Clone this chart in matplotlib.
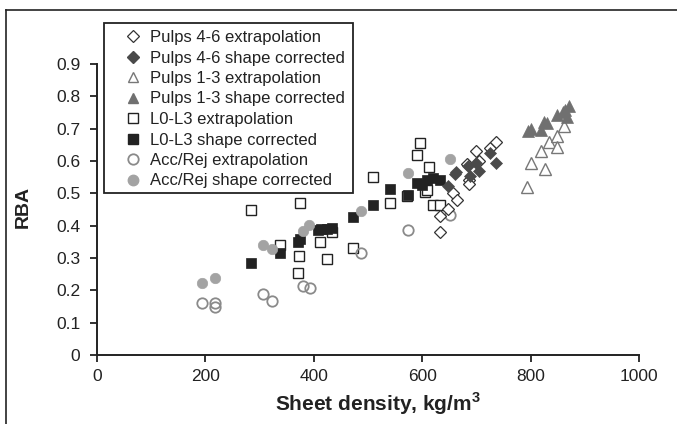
import matplotlib
matplotlib.use("Agg")
import matplotlib.pyplot as plt
from matplotlib.lines import Line2D
from matplotlib.patches import Rectangle

plt.rcParams['font.family'] = ['Liberation Sans', 'DejaVu Sans']
plt.rcParams['mathtext.fontset'] = 'custom'
plt.rcParams['mathtext.rm'] = 'Liberation Sans'
plt.rcParams['mathtext.bf'] = 'Liberation Sans:bold'

# Pulps 4-6
p46_ext_x = [632, 632, 648, 657, 664, 682, 687, 687, 700, 705, 726, 736]
p46_ext_y = [0.38, 0.43, 0.45, 0.50, 0.48, 0.59, 0.54, 0.53, 0.63, 0.60, 0.64, 0.66]
p46_sc_x = [648, 660, 662, 685, 688, 700, 704, 726, 736]
p46_sc_y = [0.523, 0.56, 0.565, 0.585, 0.555, 0.595, 0.57, 0.624, 0.595]

# Pulps 1-3
p13_ext_x = [794, 800, 820, 826, 834, 848, 848, 862]
p13_ext_y = [0.52, 0.595, 0.632, 0.574, 0.66, 0.677, 0.644, 0.708]
p13_sc_x = [796, 801, 820, 825, 831, 848, 860, 864, 867, 870]
p13_sc_y = [0.694, 0.70, 0.696, 0.722, 0.716, 0.742, 0.75, 0.758, 0.737, 0.77]

# L0-L3
l03_ext_x = [285, 338, 370, 373, 375, 411, 425, 433, 472, 509, 540, 572, 590, 596, 605,
             608, 613, 620, 633]
l03_ext_y = [0.449, 0.34, 0.255, 0.306, 0.471, 0.35, 0.296, 0.381, 0.332, 0.552, 0.469,
             0.492, 0.619, 0.657, 0.505, 0.51, 0.58, 0.463, 0.463]
l03_sc_x = [285, 338, 371, 375, 408, 413, 425, 433, 472, 509, 540, 573, 590, 600, 608, 620, 632]
l03_sc_y = [0.284, 0.315, 0.35, 0.36, 0.387, 0.39, 0.39, 0.392, 0.428, 0.464, 0.512, 0.495,
            0.531, 0.525, 0.54, 0.546, 0.542]

# Acc/Rej
ar_ext_x = [193, 218, 218, 306, 322, 380, 393, 487, 573, 651]
ar_ext_y = [0.162, 0.162, 0.147, 0.189, 0.168, 0.213, 0.206, 0.315, 0.387, 0.432]
ar_sc_x = [193, 218, 306, 322, 380, 392, 487, 573, 651]
ar_sc_y = [0.224, 0.237, 0.340, 0.328, 0.385, 0.402, 0.445, 0.564, 0.606]

labels = ["Pulps 4-6 extrapolation", "Pulps 4-6 shape corrected",
          "Pulps 1-3 extrapolation", "Pulps 1-3 shape corrected",
          "L0-L3 extrapolation", "L0-L3 shape corrected",
          "Acc/Rej extrapolation", "Acc/Rej shape corrected"]

W, H = 677, 424
fig = plt.figure(figsize=(W/100, H/100), dpi=100)
ax = fig.add_axes([97/W, 1-355/H, (639-97)/W, (355-64)/H])

series = [
    (l03_ext_x, l03_ext_y, dict(marker='s', ms=7.2, mfc='white', mec='#222222', mew=1.0)),
    (ar_ext_x, ar_ext_y, dict(marker='o', ms=7.5, mfc='none', mec='#8a8a8a', mew=1.3)),
    (p46_ext_x, p46_ext_y, dict(marker='D', ms=6.0, mfc='white', mec='#333333', mew=0.9)),
    (p13_ext_x, p13_ext_y, dict(marker='^', ms=8.0, mfc='white', mec='#777777', mew=1.0)),
    (l03_sc_x, l03_sc_y, dict(marker='s', ms=7.2, mfc='#222222', mec='#222222', mew=0.5)),
    (ar_sc_x, ar_sc_y, dict(marker='o', ms=7.5, mfc='#a3a3a3', mec='#a3a3a3', mew=0.5)),
    (p46_sc_x, p46_sc_y, dict(marker='D', ms=6.0, mfc='#4a4a4a', mec='#4a4a4a', mew=0.5)),
    (p13_sc_x, p13_sc_y, dict(marker='^', ms=8.0, mfc='#707070', mec='#707070', mew=0.5)),
]
for xs, ys, st in series:
    ax.plot(xs, ys, linestyle='none', **st)

ax.set_xlim(0, 1000)
ax.set_ylim(0, 0.9)
ax.set_xticks([0, 200, 400, 600, 800, 1000])
ax.set_yticks([0, 0.1, 0.2, 0.3, 0.4, 0.5, 0.6, 0.7, 0.8, 0.9])
ax.set_yticklabels(["0", "0.1", "0.2", "0.3", "0.4", "0.5", "0.6", "0.7", "0.8", "0.9"])
for s in ['top', 'right']:
    ax.spines[s].set_visible(False)
for s in ['left', 'bottom']:
    ax.spines[s].set_linewidth(1.4)
    ax.spines[s].set_color('#222222')
ax.tick_params(direction='out', length=5, width=1.3, colors='#222222',
               labelsize=12.5, pad=7)
ax.tick_params(axis='x', pad=5)

ax.set_xlabel(r"Sheet density, kg/m$^{\mathbf{3}}$", fontsize=15, fontweight='bold',
              color='#222222')
ax.xaxis.set_label_coords((378-97)/(639-97), -(390-355)/(355-64))
ax.set_ylabel("RBA", fontsize=14, fontweight='bold', color='#222222')
ax.yaxis.set_label_coords((32-97)/(639-97), (355-207)/(355-64))

# legend
handles = [
    Line2D([], [], linestyle='none', marker='D', ms=6, mfc='white', mec='#333333', mew=0.9),
    Line2D([], [], linestyle='none', marker='D', ms=6, mfc='#4a4a4a', mec='#4a4a4a'),
    Line2D([], [], linestyle='none', marker='^', ms=7.5, mfc='white', mec='#777777', mew=1.0),
    Line2D([], [], linestyle='none', marker='^', ms=7.5, mfc='#707070', mec='#707070'),
    Line2D([], [], linestyle='none', marker='s', ms=7, mfc='white', mec='#222222', mew=1.0),
    Line2D([], [], linestyle='none', marker='s', ms=7, mfc='#222222', mec='#222222'),
    Line2D([], [], linestyle='none', marker='o', ms=7.5, mfc='none', mec='#8a8a8a', mew=1.3),
    Line2D([], [], linestyle='none', marker='o', ms=7.5, mfc='#a3a3a3', mec='#a3a3a3'),
]
fs = 12
fpx = fs * 100 / 72
hl = 1.4
leg = fig.legend(handles, labels, loc='upper left',
                 bbox_to_anchor=((133 - hl * fpx / 2) / W, 1 - 30 / H),
                 bbox_transform=fig.transFigure,
                 fontsize=fs, frameon=False, borderpad=0,
                 labelspacing=0.33, handletextpad=0.32, handlelength=hl,
                 borderaxespad=0)
for t in leg.get_texts():
    t.set_color('#222222')
fig.add_artist(Rectangle((104/W, 1-193/H), (353-104)/W, (193-23)/H,
                         transform=fig.transFigure, fill=False,
                         edgecolor='#222222', linewidth=1.3))

# outer frame (top and left edges visible)
fig.add_artist(Line2D([6/W, 1], [1-10/H, 1-10/H], transform=fig.transFigure,
                      color='#222222', lw=1.2))
fig.add_artist(Line2D([6/W, 6/W], [0, 1-10/H], transform=fig.transFigure,
                      color='#222222', lw=1.2))

fig.savefig("out.png", dpi=100)
